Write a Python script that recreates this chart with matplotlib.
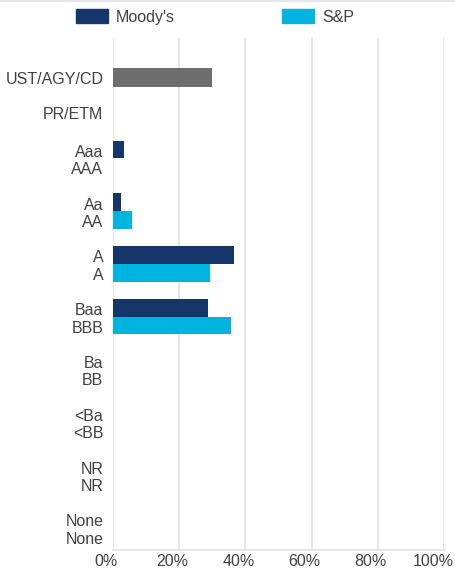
import matplotlib
matplotlib.use("Agg")
import matplotlib.pyplot as plt
import matplotlib.transforms as mtransforms
from matplotlib.patches import Patch
from matplotlib.lines import Line2D
from matplotlib.ticker import FuncFormatter

plt.rcParams['font.family'] = ['Liberation Sans', 'DejaVu Sans']

# rating categories (Moody's / S&P)
categories = ["UST/AGY/CD", "PR/ETM", "Aaa\nAAA", "Aa\nAA", "A\nA", "Baa\nBBB",
              "Ba\nBB", "<Ba\n<BB", "NR\nNR", "None\nNone"]
moodys = [0, 0, 3.3, 2.3, 36.6, 28.7, 0, 0, 0, 0]
sp = [0, 0, 0, 5.7, 29.3, 35.6, 0, 0, 0, 0]
ust_value = 30.0

# row layout (top two rows are single-line and sit closer together)
y_pos = [0.47, 1.15, 2, 3, 4, 5, 6, 7, 8, 9]

NAVY = "#14366b"
CYAN = "#00b4df"
GRAY = "#6d6d6d"
TEXT = "#404040"
GRID = "#e6e6e6"

fig = plt.figure(figsize=(4.56, 5.71), dpi=100)
ax = fig.add_axes([113 / 456, 1 - 550 / 571, (444 - 113) / 456, (550 - 38) / 571])

h = 0.335
rows = y_pos[2:]
ax.barh([y - h / 2 for y in rows], moodys[2:], height=h, color=NAVY, linewidth=0)
ax.barh([y + h / 2 for y in rows], sp[2:], height=h, color=CYAN, linewidth=0)
ax.barh(y_pos[0], ust_value, height=0.36, color=GRAY, linewidth=0)

ax.set_xlim(0, 100)
ax.set_ylim(9.42, -0.28)
ax.set_xticks(range(0, 101, 20))
ax.xaxis.set_major_formatter(FuncFormatter(lambda v, p: f"{v:.0f}%"))
ax.set_yticks(y_pos)
ax.set_yticklabels(categories, ha='right', linespacing=1.2)
ax.tick_params(axis='y', length=0, labelsize=11.5, colors=TEXT, pad=7)
ax.tick_params(axis='x', length=0, labelsize=11.5, colors=TEXT, pad=3)

# x labels sit a little left of their gridlines, the last one kept inside
xlabels = ax.get_xticklabels()
for i, lbl in enumerate(xlabels):
    dx = -11 if i == len(xlabels) - 1 else -7
    shift = mtransforms.ScaledTranslation(dx / 100, 0, fig.dpi_scale_trans)
    lbl.set_transform(lbl.get_transform() + shift)

ax.grid(True, axis='x', color=GRID, linewidth=1.5)
ax.set_axisbelow(True)
for side in ['top', 'right', 'left']:
    ax.spines[side].set_visible(False)
ax.spines['bottom'].set_color(GRID)
ax.spines['bottom'].set_linewidth(1.5)

handles = [Patch(color=NAVY, label="Moody's"), Patch(color=CYAN, label="S&P")]
fig.legend(handles=handles, loc='center left', bbox_to_anchor=(76 / 456, 1 - 17 / 571),
           ncol=2, frameon=False, fontsize=11.5, labelcolor=TEXT,
           handlelength=2.0, handleheight=1.0, handletextpad=0.5,
           columnspacing=6.7, borderpad=0, borderaxespad=0)

fig.add_artist(Line2D([0, 1], [0.999, 0.999], color=GRID, linewidth=1.5,
                      transform=fig.transFigure))

fig.savefig("out.png", dpi=100)
